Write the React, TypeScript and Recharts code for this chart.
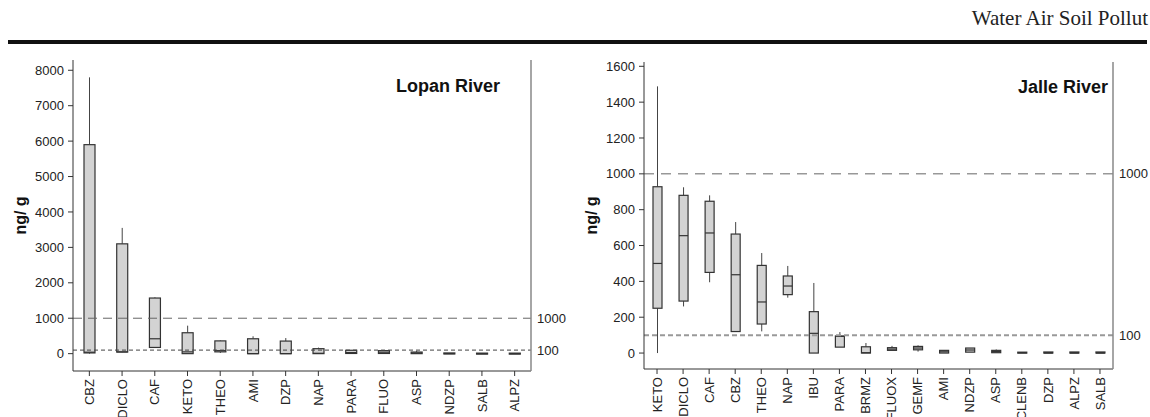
import React from 'react';
import {
  ComposedChart,
  Bar,
  XAxis,
  YAxis,
  ReferenceLine
} from 'recharts';

// Lopan River: low whisker, Q1, median, Q3, high whisker (ng/g)
const lopanNames = ['CBZ', 'DICLO', 'CAF', 'KETO', 'THEO', 'AMI', 'DZP', 'NAP', 'PARA', 'FLUO', 'ASP', 'NDZP', 'SALB', 'ALPZ'];
const lopanLow = [0, 40, 170, 0, 20, 0, 0, 0, 0, 0, 0, 0, 0, 0];
const lopanQ1 = [20, 45, 175, 0, 50, 0, 0, 0, 5, 5, 0, 0, 0, 0];
const lopanMed = [40, 50, 420, 50, 85, 0, 0, 10, 30, 40, 20, 0, 0, 0];
const lopanQ3 = [5900, 3100, 1570, 590, 360, 420, 355, 140, 95, 85, 45, 20, 15, 15];
const lopanHigh = [7800, 3550, 1590, 790, 375, 490, 440, 170, 100, 90, 80, 20, 15, 15];
const lopanTicks = [0, 1000, 2000, 3000, 4000, 5000, 6000, 7000, 8000];

// Jalle River
const jalleNames = ['KETO', 'DICLO', 'CAF', 'CBZ', 'THEO', 'NAP', 'IBU', 'PARA', 'BRMZ', 'FLUOX', 'GEMF', 'AMI', 'NDZP', 'ASP', 'CLENB', 'DZP', 'ALPZ', 'SALB'];
const jalleLow = [0, 260, 395, 119, 121, 309, 0, 33, 0, 15, 8, 0, 5, 2, 0, 0, 0, 0];
const jalleQ1 = [250, 290, 450, 120, 162, 326, 0, 33, 0, 15, 18, 0, 5, 2, 0, 0, 0, 0];
const jalleMed = [500, 655, 670, 437, 285, 374, 110, 93, 2, 22, 28, 7, 17, 8, 2, 0, 0, 0];
const jalleQ3 = [928, 880, 847, 664, 489, 430, 231, 95, 35, 30, 37, 15, 28, 15, 5, 6, 6, 6];
const jalleHigh = [1488, 925, 880, 731, 558, 486, 391, 117, 56, 40, 43, 15, 28, 20, 5, 6, 6, 6];
const jalleTicks = [0, 200, 400, 600, 800, 1000, 1200, 1400, 1600];

const limitTicks = [100, 1000];

const buildRows = (names: string[], low: number[], q1: number[], med: number[], q3: number[], high: number[]) =>
  names.map((name, i) => ({ name, low: low[i], q1: q1[i], med: med[i], q3: q3[i], high: high[i] }));

const lopanData = buildRows(lopanNames, lopanLow, lopanQ1, lopanMed, lopanQ3, lopanHigh);
const jalleData = buildRows(jalleNames, jalleLow, jalleQ1, jalleMed, jalleQ3, jalleHigh);

const FONT = 'Arial, "Liberation Sans", Helvetica, sans-serif';

// draws whiskers, box and median inside the pixel span the library gives for [low, high]
const BoxShape = (props: any) => {
  const { x, y, width, height, payload } = props;
  if (!payload) return null;
  const { low, q1, med, q3, high } = payload;
  const top = Math.min(y, y + height);
  const h = Math.abs(height);
  const span = high - low;
  const py = (v: number) => (span === 0 ? top + h : top + (h * (high - v)) / span);
  const cx = x + width / 2;
  const boxTop = py(q3);
  const boxH = Math.max(py(q1) - boxTop, 1);
  return (
    <g>
      <line x1={cx} x2={cx} y1={py(high)} y2={boxTop} stroke="#444" strokeWidth={1} />
      <line x1={cx} x2={cx} y1={py(q1)} y2={py(low)} stroke="#444" strokeWidth={1} />
      <rect x={x} y={boxTop} width={width} height={boxH} fill="#d3d3d3" stroke="#333" strokeWidth={1.2} />
      <line x1={x} x2={x + width} y1={py(med)} y2={py(med)} stroke="#333" strokeWidth={1.2} />
    </g>
  );
};

const RotatedTick = (props: any) => {
  const { x, y, payload } = props;
  return (
    <text
      x={x}
      y={y}
      transform={`rotate(-90, ${x}, ${y})`}
      textAnchor="end"
      dy="0.36em"
      fontSize={13}
      fontFamily={FONT}
      fill="#222"
    >
      {payload.value}
    </text>
  );
};

interface PanelProps {
  data: any[];
  ticks: number[];
  domain: [number, number];
  left: number;
  top: number;
  leftWidth: number;
  rightWidth: number;
  bottom: number;
  barSize: number;
  labelOffset: number;
  title: string;
  titleRight: number;
  titleTop: number;
  lowLine: { stroke: string; width: number; dash: string };
  highDash: string;
}

const Panel: React.FC<PanelProps> = (p) => (
  <div style={{ position: 'absolute', left: p.left, top: 0, width: 575, height: 417 }}>
    <ComposedChart
      width={575}
      height={417}
      data={p.data}
      margin={{ top: p.top, right: 0, bottom: 0, left: 0 }}
    >
      <XAxis
        dataKey="name"
        interval={0}
        height={p.bottom}
        tickSize={5}
        tickMargin={3}
        tick={<RotatedTick />}
        stroke="#333"
      />
      <XAxis xAxisId="top" dataKey="name" orientation="top" height={0} tick={false} tickLine={false} stroke="#333" />
      <YAxis
        type="number"
        domain={p.domain}
        allowDataOverflow
        ticks={p.ticks}
        interval={0}
        width={p.leftWidth}
        tickSize={5}
        tickMargin={4}
        stroke="#333"
        tick={{ fontSize: 13, fontFamily: FONT, fill: '#222' }}
        label={{
          value: 'ng/ g',
          angle: -90,
          position: 'insideLeft',
          offset: p.labelOffset,
          style: { textAnchor: 'middle', fontSize: 16, fontWeight: 'bold', fontFamily: FONT, fill: '#111' }
        }}
      />
      <YAxis
        yAxisId="r"
        orientation="right"
        type="number"
        domain={p.domain}
        allowDataOverflow
        ticks={limitTicks}
        interval={0}
        width={p.rightWidth}
        tickLine={false}
        tickSize={0}
        tickMargin={6}
        stroke="#888"
        strokeWidth={1.5}
        tick={{ fontSize: 13, fontFamily: FONT, fill: '#222' }}
      />
      <ReferenceLine y={1000} stroke="#666" strokeWidth={1} strokeDasharray={p.highDash} />
      <ReferenceLine y={100} stroke={p.lowLine.stroke} strokeWidth={p.lowLine.width} strokeDasharray={p.lowLine.dash} />
      <Bar
        dataKey={(d: any) => [d.low, d.high]}
        barSize={p.barSize}
        shape={<BoxShape />}
        isAnimationActive={false}
      />
    </ComposedChart>
    <div
      style={{
        position: 'absolute',
        right: 575 - p.titleRight,
        top: p.titleTop,
        fontFamily: FONT,
        fontWeight: 'bold',
        fontSize: 18,
        color: '#111',
        whiteSpace: 'nowrap'
      }}
    >
      {p.title}
    </div>
  </div>
);

export default function App() {
  return (
    <div style={{ position: 'absolute', left: 0, top: 0, width: 1150, height: 417, background: '#fff', overflow: 'hidden' }}>
      <div
        style={{
          position: 'absolute',
          right: 2,
          top: 6,
          fontFamily: '"Liberation Serif", "Times New Roman", serif',
          fontSize: 21,
          color: '#222',
          whiteSpace: 'nowrap'
        }}
      >
        Water Air Soil Pollut
      </div>
      <div style={{ position: 'absolute', left: 8, top: 40, width: 1139, height: 3.5, background: '#111' }} />
      <Panel
        data={lopanData}
        ticks={lopanTicks}
        domain={[-490, 8290]}
        left={0}
        top={60}
        leftWidth={73}
        rightWidth={44}
        bottom={46}
        barSize={11}
        labelOffset={20}
        title="Lopan River"
        titleRight={500}
        titleTop={76}
        lowLine={{ stroke: '#444', width: 1, dash: '4 3' }}
        highDash="9 6"
      />
      <Panel
        data={jalleData}
        ticks={jalleTicks}
        domain={[-89, 1624]}
        left={575}
        top={62}
        leftWidth={69}
        rightWidth={37}
        bottom={48}
        barSize={9}
        labelOffset={16}
        title="Jalle River"
        titleRight={533}
        titleTop={77}
        lowLine={{ stroke: '#999', width: 2, dash: '5 3' }}
        highDash="10 7"
      />
    </div>
  );
}
